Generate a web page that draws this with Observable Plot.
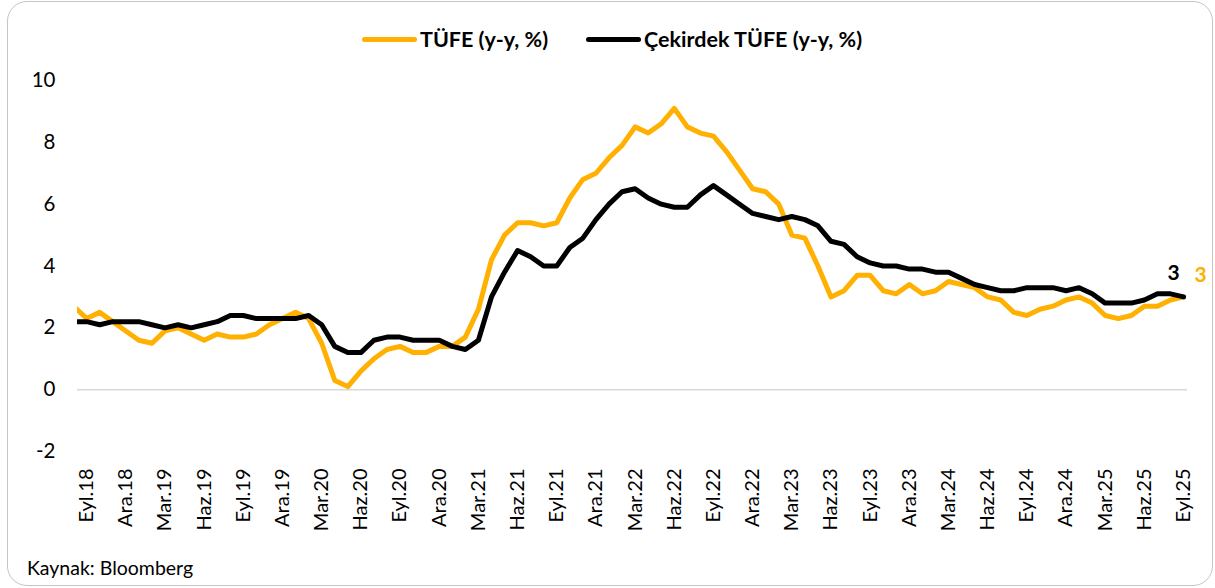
<!DOCTYPE html>
<html>
<head>
<meta charset="utf-8">
<script src="https://cdn.jsdelivr.net/npm/d3@7"></script>
<script src="https://cdn.jsdelivr.net/npm/@observablehq/plot@0.6"></script>
<style>
  html, body { margin: 0; padding: 0; background: #fff; }
  body { width: 1215px; height: 588px; position: relative; overflow: hidden; font-family: Lato, "Noto Sans", sans-serif; color: #000; }
  #frame { position: absolute; left: 7px; top: 1px; width: 1206px; height: 585px; box-sizing: border-box; border: 1.5px solid #c4c4c4; border-radius: 20px; }
  #legend { position: absolute; top: 26px; left: 362px; display: flex; align-items: center; font-weight: 700; font-size: 21.5px; white-space: nowrap; }
  .item { display: flex; align-items: center; }
  .sw { width: 55px; height: 5px; border-radius: 3px; margin-right: 3px; }
  #chart { position: absolute; left: 0; top: 62px; }
  #caption { position: absolute; left: 27px; top: 556px; font-size: 19.5px; }
</style>
</head>
<body>
<div id="frame"></div>
<div id="legend"></div>
<div id="chart"></div>
<div id="caption">Kaynak: Bloomberg</div>
<script>
// Months indexed from Eyl.18 (Sep 2018) = 0; data start at Ağu.18 (index -1)
const startIndex = -1;
const seriesNames = ["TÜFE (y-y, %)", "Çekirdek TÜFE (y-y, %)"];
const seriesColors = ["#FFB000", "#000000"];

// TÜFE y-y %, Aug 2018 ... Sep 2025
const tufe = [
  2.7, 2.3, 2.5, 2.2, 1.9,
  1.6, 1.5, 1.9, 2.0, 1.8, 1.6, 1.8, 1.7, 1.7, 1.8, 2.1, 2.3,
  2.5, 2.3, 1.5, 0.3, 0.1, 0.6, 1.0, 1.3, 1.4, 1.2, 1.2, 1.4,
  1.4, 1.7, 2.6, 4.2, 5.0, 5.4, 5.4, 5.3, 5.4, 6.2, 6.8, 7.0,
  7.5, 7.9, 8.5, 8.3, 8.6, 9.1, 8.5, 8.3, 8.2, 7.7, 7.1, 6.5,
  6.4, 6.0, 5.0, 4.9, 4.0, 3.0, 3.2, 3.7, 3.7, 3.2, 3.1, 3.4,
  3.1, 3.2, 3.5, 3.4, 3.3, 3.0, 2.9, 2.5, 2.4, 2.6, 2.7, 2.9,
  3.0, 2.8, 2.4, 2.3, 2.4, 2.7, 2.7, 2.9, 3.0
];
// Çekirdek TÜFE y-y %, Aug 2018 ... Sep 2025
const cekirdek = [
  2.2, 2.2, 2.1, 2.2, 2.2,
  2.2, 2.1, 2.0, 2.1, 2.0, 2.1, 2.2, 2.4, 2.4, 2.3, 2.3, 2.3,
  2.3, 2.4, 2.1, 1.4, 1.2, 1.2, 1.6, 1.7, 1.7, 1.6, 1.6, 1.6,
  1.4, 1.3, 1.6, 3.0, 3.8, 4.5, 4.3, 4.0, 4.0, 4.6, 4.9, 5.5,
  6.0, 6.4, 6.5, 6.2, 6.0, 5.9, 5.9, 6.3, 6.6, 6.3, 6.0, 5.7,
  5.6, 5.5, 5.6, 5.5, 5.3, 4.8, 4.7, 4.3, 4.1, 4.0, 4.0, 3.9,
  3.9, 3.8, 3.8, 3.6, 3.4, 3.3, 3.2, 3.2, 3.3, 3.3, 3.3, 3.2,
  3.3, 3.1, 2.8, 2.8, 2.8, 2.9, 3.1, 3.1, 3.0
];
const tickLabels = [
  "Eyl.18","Ara.18","Mar.19","Haz.19","Eyl.19","Ara.19","Mar.20","Haz.20",
  "Eyl.20","Ara.20","Mar.21","Haz.21","Eyl.21","Ara.21","Mar.22","Haz.22",
  "Eyl.22","Ara.22","Mar.23","Haz.23","Eyl.23","Ara.23","Mar.24","Haz.24",
  "Eyl.24","Ara.24","Mar.25","Haz.25","Eyl.25"
];
const yTicks = [-2, 0, 2, 4, 6, 8, 10];

const tickPositions = tickLabels.map((_, k) => k * 3);
const rows = [];
[tufe, cekirdek].forEach((arr, s) => arr.forEach((v, j) => rows.push({i: startIndex + j, v, s: seriesNames[s]})));
const lastRows = [tufe, cekirdek].map((arr, s) => ({i: startIndex + arr.length - 1, v: arr[arr.length - 1], s: seriesNames[s]}));

// legend
const legend = document.getElementById("legend");
seriesNames.forEach((n, k) => {
  const it = document.createElement("div");
  it.className = "item";
  if (k > 0) it.style.marginLeft = "38px";
  it.innerHTML = `<span class="sw" style="background:${seriesColors[k]}"></span><span>${n}</span>`;
  legend.appendChild(it);
});

const chart = Plot.plot({
  width: 1215,
  height: 490,
  marginTop: 18,
  marginBottom: 101,
  marginLeft: 77,
  marginRight: 28,
  style: {fontFamily: "Lato, 'Noto Sans', sans-serif", fontSize: "20px", color: "#000", background: "transparent"},
  x: {type: "linear", domain: [-0.7, 84.3]},
  y: {domain: [-2, 10]},
  color: {domain: seriesNames, range: seriesColors},
  marks: [
    Plot.ruleY([0], {stroke: "#d9d9d9", strokeWidth: 1.5}),
    Plot.axisY({ticks: yTicks, tickFormat: (d) => String(d), tickSize: 0, tickPadding: 22, label: null, fontSize: 20.5}),
    Plot.axisX({ticks: tickPositions, tickFormat: (d) => tickLabels[d / 3], tickRotate: -90, tickSize: 0, tickPadding: 17, label: null, fontSize: 20}),
    Plot.line(rows, {x: "i", y: "v", z: "s", stroke: "s", strokeWidth: 5, strokeLinejoin: "round", clip: true}),
    Plot.text([lastRows[1]], {x: "i", y: "v", text: (d) => d3.format("~g")(d.v), fill: seriesColors[1], dx: -10, dy: -24, fontWeight: "bold", fontSize: 21}),
    Plot.text([lastRows[0]], {x: "i", y: "v", text: (d) => d3.format("~g")(d.v), fill: seriesColors[0], dx: 17, dy: -22, fontWeight: "bold", fontSize: 21})
  ]
});
document.getElementById("chart").appendChild(chart);
</script>
</body>
</html>
